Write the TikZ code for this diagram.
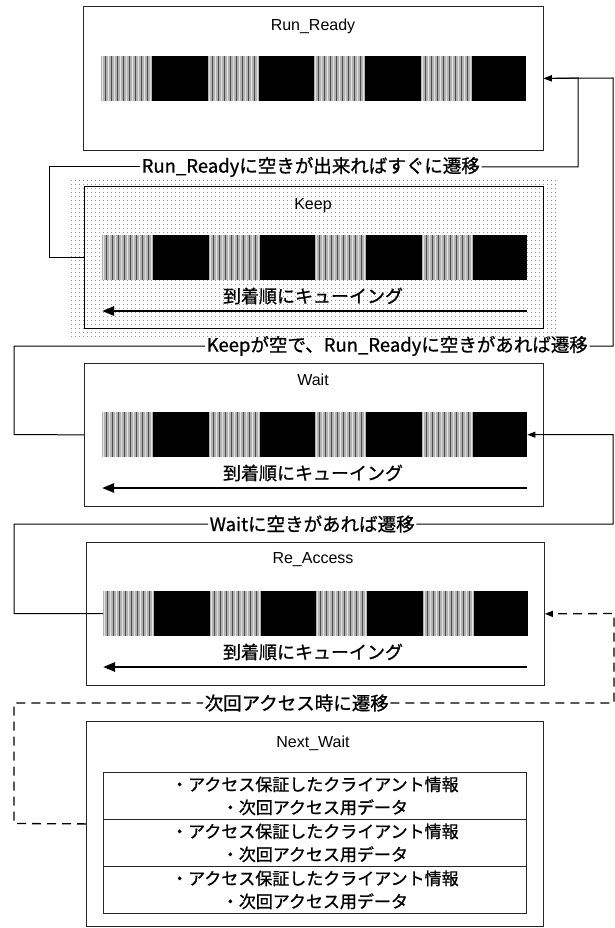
\documentclass[tikz,border=0pt]{standalone}
\usepackage{fontspec}
\setmainfont{Liberation Sans}
\newfontfamily\jp[FakeBold=0.9]{Noto Sans CJK JP}
\usetikzlibrary{arrows.meta,patterns.meta}
\newcommand{\drawbar}[3]{%
  \node[barbox, anchor=north west] (#1) at (#2,#3) {};
  \foreach \k in {0,1,2,3}{%
    \pgfmathsetmacro\sx{#2+\k*106.5}%
    \fill[gray!60] (\sx,#3) rectangle ++(51,45);
    \foreach \j in {0,...,16}{%
      \pgfmathsetmacro\lx{\sx+1.5+3*\j}%
      \ifodd\j
        \draw[black!70, line width=0.9pt] (\lx,#3) -- ++(0,45);
      \else
        \draw[white!80!gray, line width=0.9pt] (\lx,#3) -- ++(0,45);
      \fi
    }%
  }%
}
\begin{document}
\begin{tikzpicture}[x=1pt,y=-1pt,
  box/.style={draw=black!85, line width=0.8pt, inner sep=0pt},
  barbox/.style={fill=black, inner sep=0pt, minimum width=425pt, minimum height=45pt},
  ttl/.style={font=\fontsize{16}{19}\selectfont},
  lbl/.style={font=\jp\fontsize{18.5}{22}\selectfont, inner sep=1.5pt, anchor=west},
  qtxt/.style={font=\jp\fontsize{18}{21}\selectfont},
  conn/.style={line width=1pt},
  arr/.style={-{Triangle[length=8pt,width=6pt]}},
  qarrow/.style={line width=2.4pt, -{Triangle[length=12pt,width=9pt]}},
  dsh/.style={dash pattern=on 9pt off 6pt, line width=1.3pt},
  rowbox/.style={box, minimum width=423pt, minimum height=47pt, anchor=north west, align=center,
    font=\jp\fontsize{17}{23}\selectfont}
]
\useasboundingbox (0,0) rectangle (615,928);
\fill[white] (0,0) rectangle (615,928);

% Keep dotted background
\fill[pattern={Dots[distance=4pt,radius=0.65pt]}, pattern color=gray!90] (68,179) rectangle (558,336);

% boxes
\node[box, minimum width=460pt, minimum height=144pt, anchor=north west] (rr) at (83,6) {};
\node[box, line width=1.4pt, draw=black, minimum width=459pt, minimum height=142pt, anchor=north west] (keep) at (84,186) {};
\node[box, minimum width=459pt, minimum height=143pt, anchor=north west] (wait) at (84,363) {};
\node[box, minimum width=458pt, minimum height=143pt, anchor=north west] (ra) at (86,542) {};
\node[box, minimum width=457pt, minimum height=205pt, anchor=north west] (nw) at (86,721) {};

% titles
\node[ttl] (trr) at (313,26) {Run\_Ready};
\node[ttl] (tkeep) at (313,206) {Keep};
\node[ttl] (twait) at (313,380) {Wait};
\node[ttl] (tra) at (313,560) {Re\_Access};
\node[ttl] (tnw) at (313,743) {Next\_Wait};

% bars
\drawbar{rrbar}{101}{56}
\drawbar{kbar}{102}{235}
\drawbar{wbar}{102}{412}
\drawbar{rabar}{103}{591}

% queue texts and arrows
\node[qtxt] (qk) at (313,296) {到着順にキューイング};
\node[qtxt] (qw) at (313,473) {到着順にキューイング};
\node[qtxt] (qra) at (313,652) {到着順にキューイング};
\coordinate (qk1) at (527,311); \coordinate (qk2) at (102,311);
\coordinate (qw1) at (527,488); \coordinate (qw2) at (102,488);
\coordinate (qr1) at (527,667); \coordinate (qr2) at (103,667);
\draw[qarrow] (qk1) -- (qk2);
\draw[qarrow] (qw1) -- (qw2);
\draw[qarrow] (qr1) -- (qr2);

% Next_Wait table
\node[rowbox] (r1) at (103,772) {・アクセス保証したクライアント情報\\・次回アクセス用データ};
\node[rowbox] (r2) at (103,819) {・アクセス保証したクライアント情報\\・次回アクセス用データ};
\node[rowbox] (r3) at (103,866) {・アクセス保証したクライアント情報\\・次回アクセス用データ};

% labels
\node[lbl] (l1) at (140,167) {Run\_Readyに空きが出来ればすぐに遷移};
\node[lbl] (l2) at (205,346) {Keepが空で、Run\_Readyに空きがあれば遷移};
\node[lbl] (l3) at (208,524) {Waitに空きがあれば遷移};
\node[lbl] (l4) at (203,703) {次回アクセス時に遷移};

\coordinate (j1) at (578,78);
\coordinate (j2) at (613,78);

% Keep -> Run_Ready
\draw[conn] (keep.west) -- ++(-35,0) |- (l1.west);
\draw[conn, arr] (l1.east) -| (j1) -- (rr.east);
% Wait -> Run_Ready
\draw[conn] (wait.west) -- (14,434.5) |- (l2.west);
\draw[conn, arr] (l2.east) -| (j2) -- (rr.east);
% Re_Access -> Wait
\draw[conn] (rabar.west) -- (14,613.5) |- (l3.west);
\draw[conn, arr] (l3.east) -| (613,434.5) -- (wbar.east);
% Next_Wait -> Re_Access (dashed)
\draw[dsh] (nw.west) -- (14,823.5) |- (l4.west);
\draw[dsh, arr] (l4.east) -| (614,613.5) -- (ra.east);
\end{tikzpicture}
\end{document}
